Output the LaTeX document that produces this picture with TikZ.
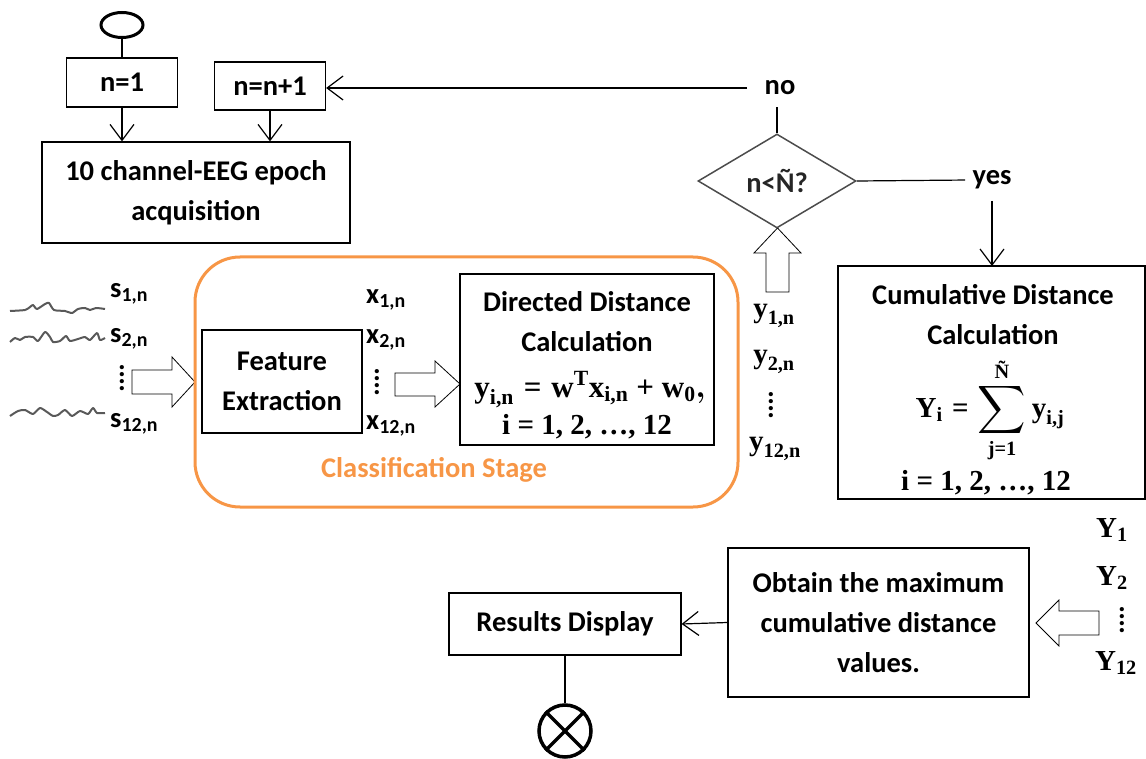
\RequirePackage{fix-cm}
\documentclass[tikz,border=0pt]{standalone}
\usepackage{amsmath}
\usepackage{fontspec}
\setmainfont{Carlito}
\newfontfamily\eqfont{Liberation Serif}
\usetikzlibrary{arrows.meta,shapes.geometric,calc}

\definecolor{stageorange}{HTML}{F79646}
\newcommand{\dotcol}{\vbox{\baselineskip=7pt\lineskiplimit=-20pt\hbox{.}\hbox{.}\hbox{.}\hbox{.}}}
\newcommand{\bigsum}{\mathop{\vcenter{\hbox{\scalebox{1.35}{$\displaystyle\sum$}}}}\limits}

\begin{document}
\begin{tikzpicture}[x=1pt,y=-1pt,
        every node/.style={font=\fontsize{28.5}{40}\selectfont\bfseries},
        box/.style={rectangle,draw,line width=1.2pt,align=center,inner sep=0pt},
        mathtxt/.style={font=\fontsize{29}{34}\selectfont\eqfont\bfseries\boldmath},
        bigeq/.style={font=\fontsize{31}{34}\selectfont\eqfont\bfseries\boldmath},
        flow/.style={line width=1.2pt,-{Straight Barb[length=16pt,width=24pt,line width=1.2pt]}},
        link/.style={line width=1.2pt},
        fat/.style={draw,fill=white,line width=0.8pt,line join=miter},
        wave/.style={gray!70!black,line width=2pt,line join=round}]

    \useasboundingbox (0,0) rectangle (1146,759);

    % Start and loop counter
    \node[ellipse,draw,line width=3pt,minimum width=42,minimum height=25,inner sep=0pt] (start) at (122,25) {};
    \node[box,minimum width=111,minimum height=49] (n1) at (122,82.5) {n=1};
    \node[box,minimum width=111,minimum height=48] (ninc) at (270,86) {n=n+1};
    \node[box,minimum width=308,minimum height=101] (acq) at (196,192.5) {10 channel-EEG epoch\\acquisition};

    \draw[link] (start.south) -- (n1.north);
    \draw[flow] (n1.south) -- (n1.south |- acq.north);
    \draw[flow] (ninc.south) -- (ninc.south |- acq.north);

    % Input signals
    \draw[wave] plot[smooth,tension=0.4] coordinates {(10,311) (25,310) (30,307) (33,305) (37,309) (45,304) (49,303) (54,310) (65,311) (72,313) (78,309) (85,308) (90,310) (96,308) (105,309)};
    \draw[wave] plot[smooth,tension=0.4] coordinates {(10,342) (15,338) (20,340) (25,337) (33,337) (38,341) (45,332) (50,337) (53,342) (60,341) (66,336) (70,341) (78,339) (85,337) (90,340) (97,333) (100,340) (105,338)};
    \draw[wave] plot[smooth,tension=0.4] coordinates {(10,416) (18,411) (25,410) (33,414) (40,408) (47,412) (53,416) (58,415) (65,410) (72,416) (80,411) (88,414) (93,408) (97,413) (105,413)};

    \node[anchor=west,inner sep=0pt] (s1) at (110,294) {s$_{\text{1,n}}$};
    \node[anchor=west,inner sep=0pt] (s2) at (110,339) {s$_{\text{2,n}}$};
    \node[inner sep=0pt] (sdots) at (122,378) {\dotcol};
    \node[anchor=west,inner sep=0pt] (s12) at (110,424) {s$_{\text{12,n}}$};

    \draw[fat] (132,370) -- (172,370) -- (172,357) -- (195,382) -- (172,407) -- (172,394) -- (132,394) -- cycle;

    % Classification stage
    \node[draw=stageorange,line width=3pt,rounded corners=45pt,minimum width=543,minimum height=250] (stage) at (466.5,382) {};
    \node[text=stageorange] (stagelbl) at (434,470) {Classification Stage};

    \node[box,minimum width=160,minimum height=103] (fe) at (282,381.5) {Feature\\Extraction};

    \node[anchor=west,inner sep=0pt] (x1) at (366,300) {x$_{\text{1,n}}$};
    \node[anchor=west,inner sep=0pt] (x2) at (366,340) {x$_{\text{2,n}}$};
    \node[inner sep=0pt] (xdots) at (377,382) {\dotcol};
    \node[anchor=west,inner sep=0pt] (x12) at (366,426) {x$_{\text{12,n}}$};

    \draw[fat] (395,373) -- (435,373) -- (435,361) -- (460,384) -- (435,407) -- (435,396) -- (395,396) -- cycle;

    \node[box,minimum width=254,minimum height=171] (ddc) at (587,359.5) {};
    \node[align=center,inner sep=0pt] (ddctitle) at (587,322) {Directed Distance\\Calculation};
    \node[bigeq,inner sep=0pt] (ddceq) at (590,390) {$\text{y}_{\text{i,n}} \mathrel{\text{=}} \text{w}^{\text{T}}\text{x}_{\text{i,n}} \mathbin{\text{+}} \text{w}_{\text{0}},$};
    \node[mathtxt,inner sep=0pt] (ddcidx) at (587,427) {i = 1, 2, \ldots, 12};

    % Outputs of the stage
    \node[mathtxt,inner sep=0pt] (y1) at (774,316) {$\text{y}_{\text{1,n}}$};
    \node[mathtxt,inner sep=0pt] (y2) at (774,362) {$\text{y}_{\text{2,n}}$};
    \node[inner sep=0pt] (ydots) at (771,405) {\dotcol};
    \node[mathtxt,inner sep=0pt] (y12) at (775,449) {$\text{y}_{\text{12,n}}$};

    \draw[fat] (766,292) -- (766,253) -- (754,253) -- (777.5,228) -- (801,253) -- (789,253) -- (789,292) -- cycle;

    % Decision
    \node[diamond,draw=black!70,line width=1.5pt,minimum width=158,minimum height=94,inner sep=0pt,text=black!85] (dia) at (777,181) {n<Ñ?};
    \node (no) at (780,88) {no};
    \node (yes) at (992,180) {yes};

    \draw[link,shorten >=8pt] (dia.north) -- (dia.north |- no.south);
    \draw[flow,shorten <=14pt] (no.west) -- (no.west -| ninc.east);
    \draw[link,shorten >=4pt] (dia.east) -- (yes.west);
    \draw[flow,shorten <=8pt] (yes.south) -- (yes.south |- 0,266);

    % Cumulative distance
    \node[box,minimum width=307,minimum height=233] (cum) at (991.5,382.5) {};
    \node[align=center,inner sep=0pt] (cumtitle) at (993,315) {Cumulative Distance\\Calculation};
    \node[mathtxt,inner sep=0pt] (cumsum) at (990,410) {$\displaystyle \text{Y}_{\text{i}} \mathrel{\text{=}} \bigsum_{\text{j=1}}^{\text{Ñ}} \text{y}_{\text{i,j}}$};
    \node[mathtxt,inner sep=0pt] (cumidx) at (986,483) {i = 1, 2, \ldots, 12};

    \node[mathtxt,inner sep=0pt] (Y1) at (1112,530) {$\text{Y}_{\text{1}}$};
    \node[mathtxt,inner sep=0pt] (Y2) at (1112,578) {$\text{Y}_{\text{2}}$};
    \node[inner sep=0pt] (Ydots) at (1122,620) {\dotcol};
    \node[mathtxt,inner sep=0pt] (Y12) at (1116,663) {$\text{Y}_{\text{12}}$};

    \draw[fat] (1099,611) -- (1059,611) -- (1059,600) -- (1036,623) -- (1059,646) -- (1059,635) -- (1099,635) -- cycle;

    % Result and end
    \node[box,minimum width=301,minimum height=149] (obt) at (878.5,622.5) {Obtain the maximum\\cumulative distance\\values.};
    \node[box,minimum width=232,minimum height=62] (res) at (565,624) {Results Display};
    \node[circle,draw,line width=3.5pt,minimum size=52,inner sep=0pt] (stop) at (565,731) {};
    \draw[line width=3.5pt] (stop.north west) -- (stop.south east);
    \draw[line width=3.5pt] (stop.north east) -- (stop.south west);

    \draw[flow] (obt.west) -- (res.east);
    \draw[link] (res.south) -- (stop.north);

\end{tikzpicture}
\end{document}
